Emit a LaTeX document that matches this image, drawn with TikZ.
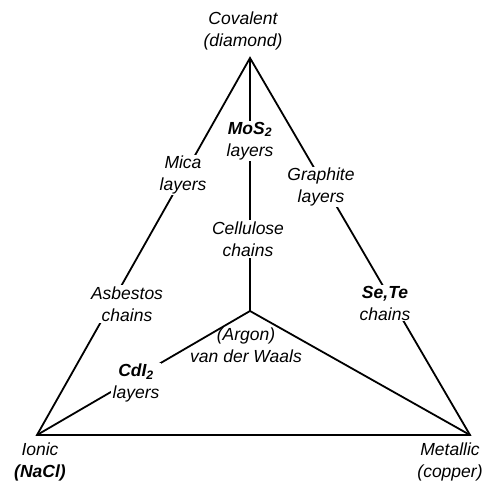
\documentclass[tikz,border=0pt]{standalone}
\usepackage{fontspec}
\setmainfont{Liberation Sans}
\begin{document}
\begin{tikzpicture}[x=1pt,y=-1pt,
  lbl/.style={font=\fontsize{17.5}{22}\selectfont\itshape, align=center, inner sep=1.2pt},
  lblw/.style={lbl, fill=white},
  ln/.style={line width=1.8pt, line join=miter}]
\useasboundingbox (0,0) rectangle (489,481);
\coordinate (T) at (250,58);
\coordinate (L) at (37,435);
\coordinate (R) at (470,435);
\coordinate (C) at (250,311);
\draw[ln] (T) -- (L) -- (R) -- cycle;
\draw[ln] (T) -- (C);
\draw[ln] (L) -- (C);
\draw[ln] (R) -- (C);
\node[lbl] (cov) at (243,31) {Covalent\\(diamond)};
\node[lblw] (mos) at (250,141) {\textbf{MoS\textsubscript{2}}\\layers};
\node[lblw] (mica) at (183,175) {Mica\\layers};
\node[lblw] (graph) at (321,187) {Graphite\\layers};
\node[lblw] (cell) at (248,239) {Cellulose\\chains};
\node[lblw] (asb) at (127,304) {Asbestos\\chains};
\node[lblw] (sete) at (385,303) {\textbf{Se,Te}\\chains};
\node[lbl] (vdw) at (246,345) {(Argon)\\van der Waals};
\node[lblw] (cdi) at (136,383) {\textbf{CdI\textsubscript{2}}\\layers};
\node[lbl] (ionic) at (40,462) {Ionic\\\textbf{(NaCl)}};
\node[lbl] (met) at (450,462) {Metallic\\(copper)};
\end{tikzpicture}
\end{document}
